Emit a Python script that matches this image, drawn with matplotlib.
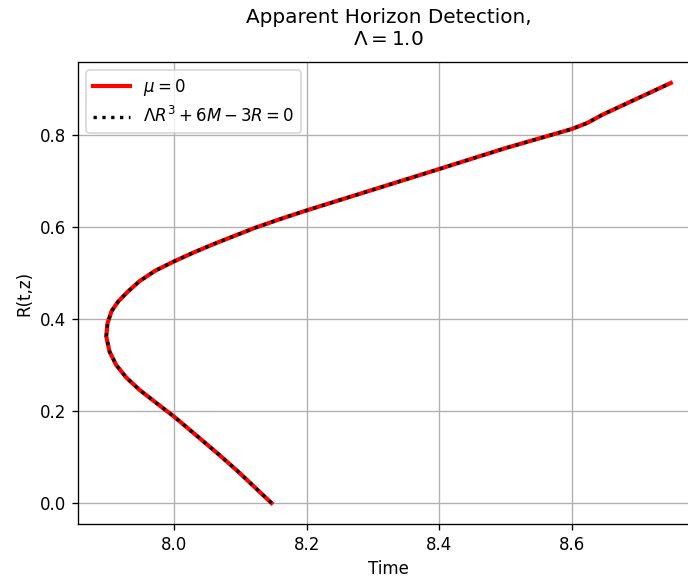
import matplotlib
matplotlib.use("Agg")
import matplotlib.pyplot as plt

# Apparent horizon curve (time, R)
time = [8.147, 8.122, 8.097, 8.072, 8.037, 8.000, 7.973, 7.948, 7.928,
        7.913, 7.903, 7.898, 7.900, 7.906, 7.916, 7.931, 7.948, 7.972,
        8.000, 8.029, 8.062, 8.122, 8.162, 8.200, 8.298, 8.400, 8.499,
        8.600, 8.623, 8.646, 8.749]
radius = [0.000, 0.034, 0.068, 0.100, 0.143, 0.188, 0.218, 0.246, 0.273,
          0.300, 0.329, 0.362, 0.391, 0.417, 0.438, 0.460, 0.482, 0.505,
          0.525, 0.544, 0.564, 0.598, 0.618, 0.636, 0.680, 0.726, 0.771,
          0.813, 0.826, 0.844, 0.913]

lam = 1.0

# reference looks like it was rendered at 120 dpi
fig = plt.figure(figsize=(688 / 120, 577 / 120), dpi=120)
ax = fig.add_axes([0.1134, 0.0919, 0.9026, 0.8007])

ax.plot(time, radius, color="red", linewidth=2.5, label=r"$\mu = 0$")
ax.plot(time, radius, color="black", linestyle=":", linewidth=2,
        label=r"$\Lambda R^3 + 6M - 3R = 0$")

ax.set_xlabel("Time")
ax.set_ylabel("R(t,z)")
ax.set_title("Apparent Horizon Detection,\n" + rf"$\Lambda = {lam}$", pad=10)
ax.grid(True)
ax.legend(loc="upper left", handlelength=2.2)

fig.savefig("out.png", dpi=120)
